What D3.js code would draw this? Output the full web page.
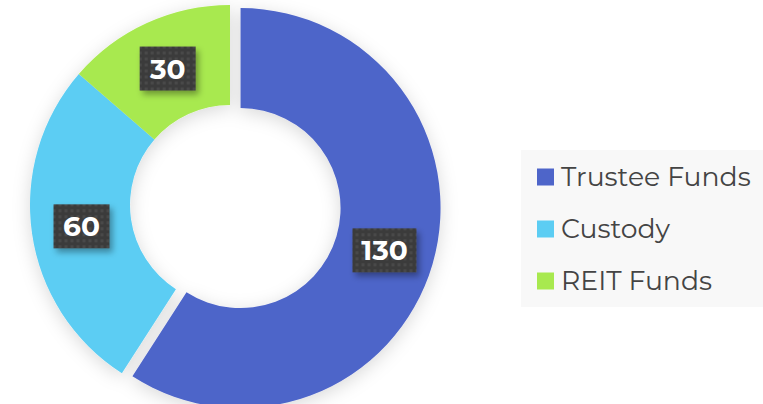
<!DOCTYPE html>
<html>
<head>
<meta charset="utf-8">
<script src="https://cdn.jsdelivr.net/npm/d3@7"></script>
<style>
  body { margin: 0; background: #fff; }
  svg { display: block; }
</style>
</head>
<body>
<div id="chart-area"></div>
<script>
const WIDTH = 763
const HEIGHT = 404

const categories = ["Trustee Funds", "Custody", "REIT Funds"]
const values = [130, 60, 30]
const colors = ["#4e65c9", "#5ccdf3", "#a8e94f"]

const data = categories.map((c, i) => ({ name: c, value: values[i], color: colors[i] }))

const CX = 230, CY = 205
const R_OUT = 200, R_IN = 100
const EXPLODE = 11

const svg = d3.select("#chart-area").append("svg")
  .attr("width", WIDTH)
  .attr("height", HEIGHT)

const defs = svg.append("defs")

// soft shadow round the donut
const shadow = defs.append("filter").attr("id", "shadow")
  .attr("x", "-20%").attr("y", "-20%").attr("width", "140%").attr("height", "140%")
shadow.append("feDropShadow")
  .attr("dx", 0).attr("dy", 4).attr("stdDeviation", 9)
  .attr("flood-color", "#000").attr("flood-opacity", 0.15)

// shadow for label boxes
const boxShadow = defs.append("filter").attr("id", "boxshadow")
  .attr("x", "-30%").attr("y", "-30%").attr("width", "160%").attr("height", "160%")
boxShadow.append("feDropShadow")
  .attr("dx", 3).attr("dy", 4).attr("stdDeviation", 3)
  .attr("flood-color", "#000").attr("flood-opacity", 0.35)

// dotted pattern for label boxes
const pat = defs.append("pattern").attr("id", "dots")
  .attr("width", 6).attr("height", 6).attr("patternUnits", "userSpaceOnUse")
pat.append("rect").attr("width", 6).attr("height", 6).attr("fill", "#3b3b3b")
pat.append("rect").attr("x", 1).attr("y", 1).attr("width", 3).attr("height", 3).attr("fill", "#4a4a4a")

const pie = d3.pie().value(d => d.value).sort(null)
const arc = d3.arc().innerRadius(R_IN).outerRadius(R_OUT)
const labelArc = d3.arc().innerRadius(150).outerRadius(150)

const arcs = pie(data)

const g = svg.append("g")
  .attr("transform", `translate(${CX}, ${CY})`)

function offset(d, i) {
  if (i !== 0) return [0, 0]
  const mid = (d.startAngle + d.endAngle) / 2
  return [Math.sin(mid) * EXPLODE, -Math.cos(mid) * EXPLODE]
}

g.append("g").attr("filter", "url(#shadow)")
  .selectAll("path")
  .data(arcs)
  .enter().append("path")
    .attr("d", arc)
    .attr("fill", d => d.data.color)
    .attr("transform", (d, i) => `translate(${offset(d, i)})`)

// value labels
const halfW = d => String(d.data.value).length * 4 + 20

const labels = g.selectAll("g.lbl")
  .data(arcs)
  .enter().append("g")
    .attr("class", "lbl")
    .attr("transform", (d, i) => {
      const c = labelArc.centroid(d)
      const o = offset(d, i)
      return `translate(${c[0] + o[0]}, ${c[1] + o[1]})`
    })

labels.append("rect")
  .attr("x", d => -halfW(d))
  .attr("y", -22)
  .attr("width", d => 2 * halfW(d))
  .attr("height", 44)
  .attr("fill", "url(#dots)")
  .attr("filter", "url(#boxshadow)")

labels.append("text")
  .attr("text-anchor", "middle")
  .attr("dy", "0.36em")
  .attr("font-family", "Montserrat, 'Open Sans', sans-serif")
  .attr("font-weight", "bold")
  .attr("font-size", "28px")
  .attr("fill", "#fff")
  .text(d => d.data.value)

// Legend
const legend = svg.append("g")
  .attr("transform", "translate(521, 150)")

legend.append("rect")
  .attr("width", 242)
  .attr("height", 157)
  .attr("fill", "#f8f8f8")

const items = legend.selectAll("g.item")
  .data(data)
  .enter().append("g")
    .attr("class", "item")
    .attr("transform", (d, i) => `translate(16, ${26.5 + i * 52})`)

items.append("rect")
  .attr("y", -8)
  .attr("width", 17)
  .attr("height", 17)
  .attr("fill", d => d.color)

items.append("text")
  .attr("x", 24)
  .attr("dy", "0.36em")
  .attr("font-family", "Montserrat, 'Open Sans', sans-serif")
  .attr("font-size", "26.7px")
  .attr("fill", "#444")
  .text(d => d.name)
</script>
</body>
</html>
